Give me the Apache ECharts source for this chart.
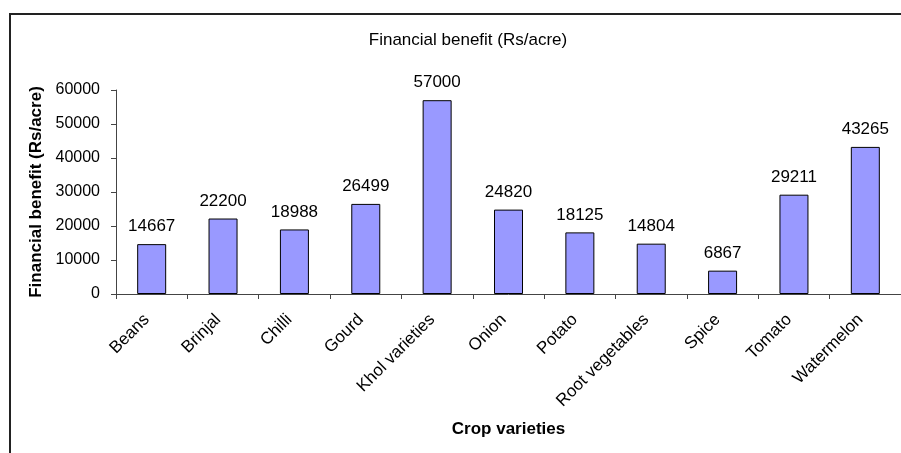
<!DOCTYPE html>
<html>
<head>
<meta charset="utf-8">
<script src="https://cdn.jsdelivr.net/npm/echarts@6/dist/echarts.min.js"></script>
<style>
  html, body { margin: 0; padding: 0; background: #fff; }
  #chart { width: 901px; height: 453px; }
</style>
</head>
<body>
<div id="chart"></div>
<script>
    // crop names and benefit values
    const crops = ['Beans', 'Brinjal', 'Chilli', 'Gourd', 'Khol varieties', 'Onion',
        'Potato', 'Root vegetables', 'Spice', 'Tomato', 'Watermelon'];
    const benefit = [14667, 22200, 18988, 26499, 57000, 24820, 18125, 14804, 6867, 29211, 43265];
    const yTicks = [0, 10000, 20000, 30000, 40000, 50000, 60000];

    const font = 'Arial, "Liberation Sans", sans-serif';
    let myChart = echarts.init(document.getElementById('chart'));
    myChart.setOption({
        animation: false,
        textStyle: {fontFamily: font},
        title: {
            text: 'Financial benefit (Rs/acre)',
            left: 463,
            top: 27,
            textAlign: 'center',
            textStyle: {
                fontFamily: font,
                fontSize: 17,
                fontWeight: 'normal',
                color: '#000'
            }
        },
        graphic: [{
            type: 'rect',
            shape: {x: 10, y: 14, width: 1000, height: 1000},
            style: {fill: 'none', stroke: '#222', lineWidth: 2},
            silent: true
        }],
        grid: {
            left: 116,
            top: 90,
            width: 786,
            height: 204
        },
        xAxis: {
            type: 'category',
            data: crops,
            name: 'Crop varieties',
            nameLocation: 'middle',
            nameGap: 127,
            nameTextStyle: {
                fontFamily: font,
                fontSize: 17,
                fontWeight: 'bold',
                color: '#000'
            },
            axisLine: {lineStyle: {color: '#444', width: 1}},
            axisTick: {show: true, length: 5, lineStyle: {color: '#444'}},
            axisLabel: {
                interval: 0,
                rotate: 45,
                margin: 18,
                padding: [0, 7, 0, 0],
                fontSize: 17,
                color: '#000'
            }
        },
        yAxis: {
            type: 'value',
            min: yTicks[0],
            max: yTicks[yTicks.length - 1],
            interval: yTicks[1] - yTicks[0],
            name: 'Financial benefit (Rs/acre)',
            nameLocation: 'middle',
            nameGap: 67,
            nameTextStyle: {
                fontFamily: font,
                fontSize: 17,
                fontWeight: 'bold',
                color: '#000'
            },
            splitLine: {show: false},
            axisLine: {show: true, lineStyle: {color: '#444', width: 1}},
            axisTick: {show: true, length: 5, lineStyle: {color: '#444'}},
            axisLabel: {
                margin: 16,
                fontSize: 16,
                color: '#000',
                formatter: function (v) {
                    return String(v);
                }
            }
        },
        series: [{
            name: 'Financial benefit (Rs/acre)',
            type: 'bar',
            data: benefit,
            barWidth: 29,
            itemStyle: {
                color: '#9999FF',
                borderColor: '#000',
                borderWidth: 1
            },
            label: {
                show: true,
                position: 'top',
                distance: 9,
                fontSize: 17,
                color: '#000'
            }
        }]
    });
</script>
</body>
</html>
